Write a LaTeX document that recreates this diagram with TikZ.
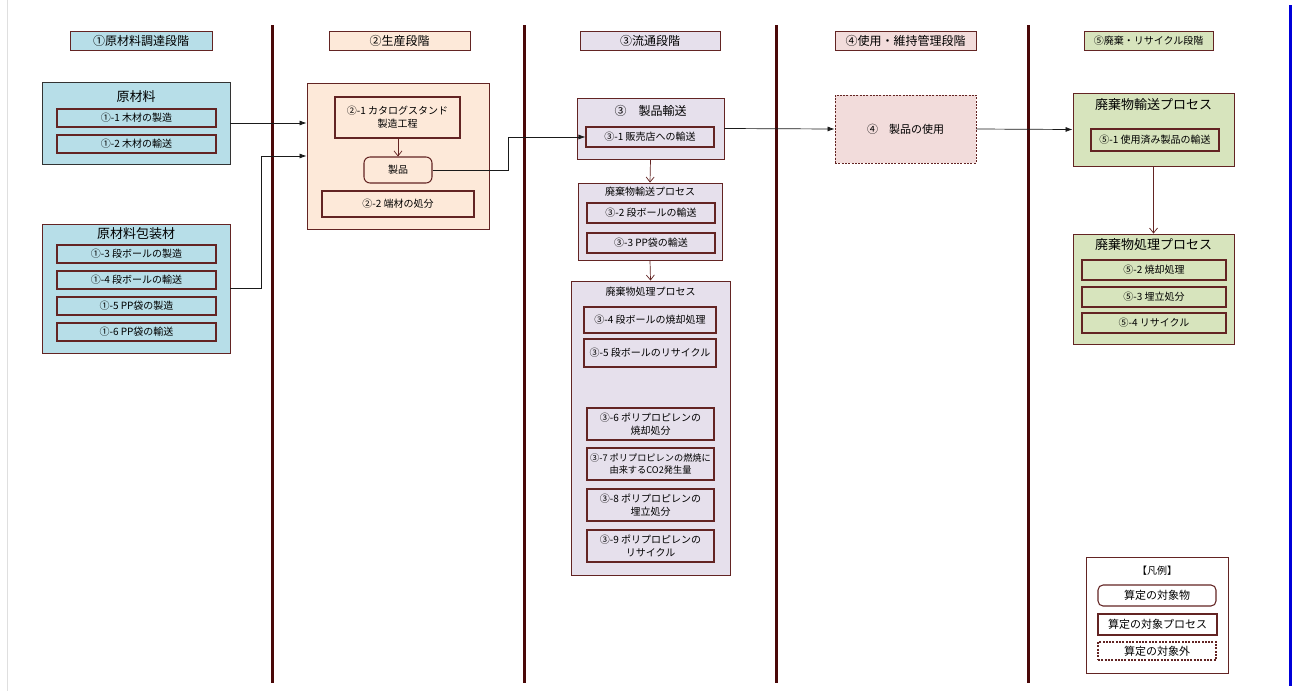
\documentclass[tikz,border=0pt]{standalone}
\usepackage{fontspec}
\setmainfont{Noto Sans CJK JP}
\usetikzlibrary{arrows.meta}
\definecolor{bd}{HTML}{632423}
\definecolor{dv}{HTML}{4A0808}
\definecolor{cblue}{HTML}{B7DEE8}
\definecolor{cpeach}{HTML}{FDE9D9}
\definecolor{clav}{HTML}{E6E0EC}
\definecolor{cpink}{HTML}{F2DCDB}
\definecolor{cgreen}{HTML}{D7E4BD}
\definecolor{cline}{HTML}{1A1A1A}
\newcommand{\fsub}{\fontsize{10pt}{13pt}\selectfont}
\newcommand{\fsmall}{\fontsize{9.2pt}{12.5pt}\selectfont}
\newcommand{\fmid}{\fontsize{11pt}{13.5pt}\selectfont}
\newcommand{\fhead}{\fontsize{12pt}{14pt}\selectfont}
\newcommand{\fbig}{\fontsize{13pt}{15pt}\selectfont}
\newcommand{\bx}[7][]{\node[#1, minimum width={(#5-#3)*1pt}, minimum height={(#6-#4)*1pt}] (#2) at ({(#3+#5)/2},{(#4+#6)/2}) {#7};}
\tikzset{
  x=1pt, y=-1pt,
  outer/.style={draw=bd, line width=0.9pt, inner sep=0pt},
  sub/.style={draw=bd, line width=1.05pt, inner sep=0pt, align=center, font=\fsub},
  head/.style={draw=bd, line width=1pt, inner sep=0pt, font=\fhead},
  divider/.style={draw=dv, line width=3pt},
  conn/.style={draw=cline, line width=0.7pt, -{Latex[length=7pt,width=5pt]}},
  oarr/.style={draw=bd, line width=0.7pt, -{Straight Barb[length=5pt,width=8pt]}},
  ttl/.style={inner sep=0pt},
  dots/.style={dash pattern=on 2pt off 1.3pt}
}
\begin{document}
\begin{tikzpicture}
\useasboundingbox[fill=white] (0,0) rectangle (1293,691);
\draw[gray!25, line width=0.8pt] (7,0) -- (7,691);
\draw[blue!85!black, line width=2.5pt] (1290.5,5) -- (1290.5,686);
% dividers
\draw[divider] (272,25) -- (272,683);
\draw[divider] (524,25) -- (524,683);
\draw[divider] (776,25) -- (776,683);
\draw[divider] (1028,25) -- (1028,683);
% headers
\bx[head, fill=cblue]{h1}{70}{31}{212}{50}{①原材料調達段階}
\bx[head, fill=cpeach]{h2}{329}{31}{470}{50}{②生産段階}
\bx[head, fill=clav]{h3}{580}{31}{720}{50}{③流通段階}
\bx[head, fill=cpink]{h4}{835}{31}{976}{50}{④使用・維持管理段階}
\bx[head, fill=cgreen, font=\fsub]{h5}{1084}{31}{1213}{50}{⑤廃棄・リサイクル段階}
% column 1
\bx[outer, draw=black!80, fill=cblue]{m1}{42}{82}{230}{164}{}
\node[ttl, font=\fbig] (m1t) at (136,97) {原材料};
\bx[sub]{m11}{57}{109}{216}{127}{①-1 木材の製造}
\bx[sub]{m12}{57}{135}{216}{153}{①-2 木材の輸送}
\bx[outer, fill=cblue]{m2}{42}{224}{230}{353}{}
\node[ttl, font=\fbig] (m2t) at (136,234) {原材料包装材};
\bx[sub]{m21}{57}{245}{216}{263}{①-3 段ボールの製造}
\bx[sub]{m22}{57}{271}{216}{289}{①-4 段ボールの輸送}
\bx[sub]{m23}{57}{297}{216}{315}{①-5 PP袋の製造}
\bx[sub]{m24}{57}{323}{216}{341}{①-6 PP袋の輸送}
% column 2
\bx[outer, fill=cpeach]{p}{307}{83}{489}{229}{}
\bx[sub]{p1}{335}{97}{460}{138}{②-1 カタログスタンド\\製造工程}
\bx[sub, rounded corners=6pt]{prod}{364}{157}{432}{183}{製品}
\bx[sub]{p2}{322}{191}{474}{217}{②-2 端材の処分}
% column 3
\bx[outer, fill=clav]{t}{577}{98}{724}{159}{}
\node[ttl, font=\fhead] (tt) at (650.5,111) {③　製品輸送};
\bx[sub]{t1}{586}{127}{714}{147}{③-1 販売店への輸送}
\bx[outer, fill=clav]{w1}{578}{183}{722}{260}{}
\node[ttl, font=\fsub] (w1t) at (650,192) {廃棄物輸送プロセス};
\bx[sub]{w11}{587}{203}{715}{223}{③-2 段ボールの輸送}
\bx[sub]{w12}{587}{233}{715}{253}{③-3 PP袋の輸送}
\bx[outer, fill=clav]{w2}{571}{281}{730}{575}{}
\node[ttl, font=\fsub] (w2t) at (650.5,292) {廃棄物処理プロセス};
\bx[sub]{w21}{584}{307}{716}{333}{③-4 段ボールの焼却処理}
\bx[sub]{w22}{584}{339}{716}{367}{③-5 段ボールのリサイクル}
\bx[sub]{w23}{587}{408}{714}{440}{③-6 ポリプロピレンの\\焼却処分}
\bx[sub, font=\fsmall]{w24}{587}{448}{714}{480}{③-7 ポリプロピレンの燃焼に\\由来するCO2発生量}
\bx[sub]{w25}{587}{489}{714}{521}{③-8 ポリプロピレンの\\埋立処分}
\bx[sub]{w26}{587}{530}{714}{562}{③-9 ポリプロピレンの\\リサイクル}
% column 4
\bx[outer, fill=cpink, dots, font=\fmid]{u}{835}{95}{976}{163}{④　製品の使用}
% column 5
\bx[outer, fill=cgreen]{g1}{1073}{93}{1234}{166}{}
\node[ttl, font=\fbig] (g1t) at (1153.5,105) {廃棄物輸送プロセス};
\bx[sub]{g11}{1091}{129}{1219}{151}{⑤-1 使用済み製品の輸送}
\bx[outer, fill=cgreen]{g2}{1073}{234}{1234}{344}{}
\node[ttl, font=\fbig] (g2t) at (1153.5,245) {廃棄物処理プロセス};
\bx[sub]{g21}{1082}{260}{1226}{280}{⑤-2 焼却処理}
\bx[sub]{g22}{1082}{287}{1226}{307}{⑤-3 埋立処分}
\bx[sub]{g23}{1082}{313}{1226}{333}{⑤-4 リサイクル}
% legend
\bx[outer]{lg}{1086}{557}{1228}{673}{}
\node[ttl, font=\fsub] (lgt) at (1157,571) {【凡例】};
\bx[sub, font=\fmid, rounded corners=5pt]{l1}{1098}{585}{1216}{606}{算定の対象物}
\bx[sub, font=\fmid]{l2}{1098}{614}{1217}{635}{算定の対象プロセス}
\bx[sub, font=\fmid, dots]{l3}{1098}{642}{1216}{660}{算定の対象外}
% connectors
\draw[conn] (m1.east) -- (m1.east -| p.west);
\draw[conn] (m2.east) -- ++(31,0) |- (p.west);
\draw[oarr] (p1.south -| prod.north) -- (prod.north);
\draw[conn] (prod.east) -- ++(76,0) |- (t1.west);
\draw[oarr] (t.south) -- (w1.north);
\draw[oarr] (w1.south) -- (w2.north);
\draw[conn] (t.east) -- (u.west);
\draw[conn] (u.east) -- (g1.west);
\draw[oarr] (g1.south) -- (g2.north);
\end{tikzpicture}
\end{document}
